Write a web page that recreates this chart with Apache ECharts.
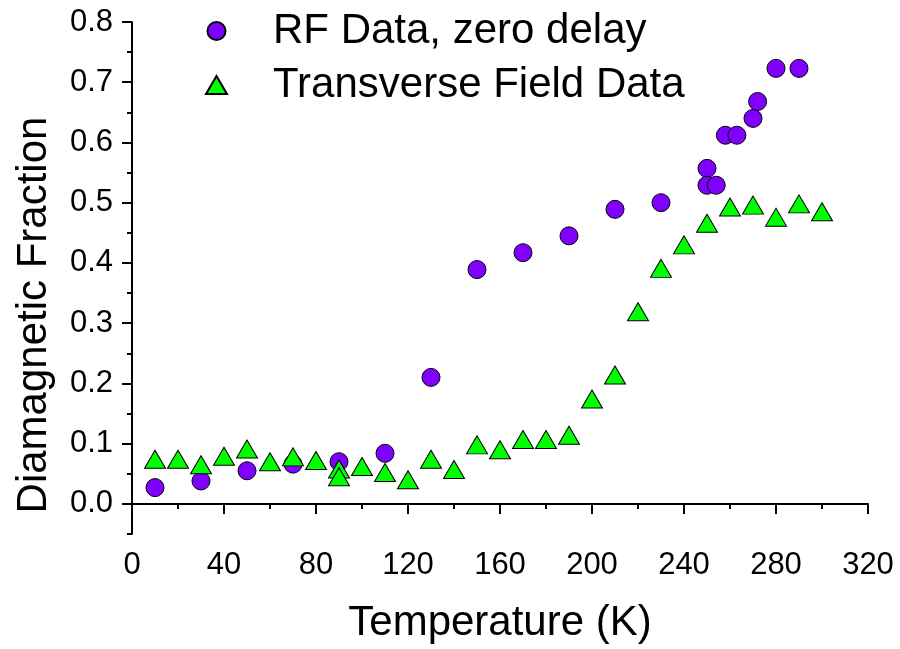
<!DOCTYPE html>
<html>
<head>
<meta charset="utf-8">
<script src="https://cdn.jsdelivr.net/npm/echarts@6/dist/echarts.min.js"></script>
<style>
  html, body { margin: 0; padding: 0; background: #fff; }
  #main { width: 900px; height: 649px; }
</style>
</head>
<body>
<div id="main"></div>
<script>
// RF data, zero delay
const rfTemp = [10, 30, 50, 70, 90, 110, 130, 150, 170, 190, 210, 230, 250, 250, 254, 258, 263, 270, 272, 280, 290];
const rfFrac = [0.027, 0.038, 0.055, 0.066, 0.070, 0.084, 0.210, 0.389, 0.417, 0.445, 0.489, 0.500, 0.557, 0.529, 0.529, 0.612, 0.612, 0.640, 0.668, 0.723, 0.723];

// Transverse field data
const tfTemp = [10, 20, 30, 40, 50, 60, 70, 80, 90, 90, 100, 110, 120, 130, 140, 150, 160, 170, 180, 190, 200, 210, 220, 230, 240, 250, 260, 270, 280, 290, 300];
const tfFrac = [0.074, 0.074, 0.065, 0.079, 0.091, 0.070, 0.078, 0.072, 0.058, 0.045, 0.062, 0.052, 0.040, 0.074, 0.057, 0.098, 0.090, 0.107, 0.107, 0.114, 0.174, 0.214, 0.319, 0.391, 0.430, 0.466, 0.493, 0.496, 0.476, 0.498, 0.485];

const yMajor = [0, 0.1, 0.2, 0.3, 0.4, 0.5, 0.6, 0.7, 0.8];
const yMinor = [-0.05, 0.05, 0.15, 0.25, 0.35, 0.45, 0.55, 0.65, 0.75];

const font = "Liberation Sans, Arial, sans-serif";

const chart = echarts.init(document.getElementById("main"));

const option = {
  animation: false,
  grid: { left: 132, right: 32, top: 22, bottom: 115 },
  legend: {
    orient: "vertical",
    left: 200,
    top: 5,
    itemGap: 12,
    itemWidth: 21,
    itemHeight: 18,
    textStyle: {
      fontFamily: font,
      fontSize: 42,
      color: "#000",
      padding: [0, 0, 0, 41]
    },
    data: ["RF Data, zero delay", "Transverse Field Data"]
  },
  xAxis: {
    type: "value",
    min: 0,
    max: 320,
    interval: 40,
    name: "Temperature (K)",
    nameLocation: "middle",
    nameGap: 68,
    nameTextStyle: { fontFamily: font, fontSize: 42, color: "#000" },
    axisLine: { lineStyle: { color: "#000", width: 2 } },
    axisTick: { inside: false, length: 10, lineStyle: { color: "#000", width: 2 } },
    minorTick: { show: true, splitNumber: 2, length: 5, lineStyle: { color: "#000", width: 2 } },
    axisLabel: { fontFamily: font, fontSize: 31, color: "#000", margin: 16 },
    splitLine: { show: false }
  },
  yAxis: [
    {
      type: "value",
      min: -0.05,
      max: 0.8,
      name: "Diamagnetic Fraction",
      nameLocation: "middle",
      nameGap: 77,
      nameTextStyle: { fontFamily: font, fontSize: 42, color: "#000", padding: [0, 74, 0, 0] },
      axisLine: { lineStyle: { color: "#000", width: 2 } },
      axisTick: { inside: false, length: 10, customValues: yMajor, lineStyle: { color: "#000", width: 2 } },
      axisLabel: {
        fontFamily: font, fontSize: 31, color: "#000", margin: 19,
        customValues: yMajor,
        formatter: v => v.toFixed(1)
      },
      splitLine: { show: false }
    },
    {
      type: "value",
      position: "left",
      min: -0.05,
      max: 0.8,
      axisLine: { show: false },
      axisTick: { inside: false, length: 5, customValues: yMinor, lineStyle: { color: "#000", width: 2 } },
      axisLabel: { show: false },
      splitLine: { show: false }
    }
  ],
  series: [
    {
      name: "RF Data, zero delay",
      type: "scatter",
      symbol: "circle",
      symbolSize: 18,
      itemStyle: { color: "#8000ff", borderColor: "#000", borderWidth: 1, opacity: 1 },
      data: rfTemp.map((t, i) => [t, rfFrac[i]])
    },
    {
      name: "Transverse Field Data",
      type: "scatter",
      symbol: "triangle",
      symbolSize: [21, 18],
      itemStyle: { color: "#00ff00", borderColor: "#000", borderWidth: 1, opacity: 1 },
      data: tfTemp.map((t, i) => [t, tfFrac[i]])
    }
  ]
};

chart.setOption(option);
</script>
</body>
</html>
